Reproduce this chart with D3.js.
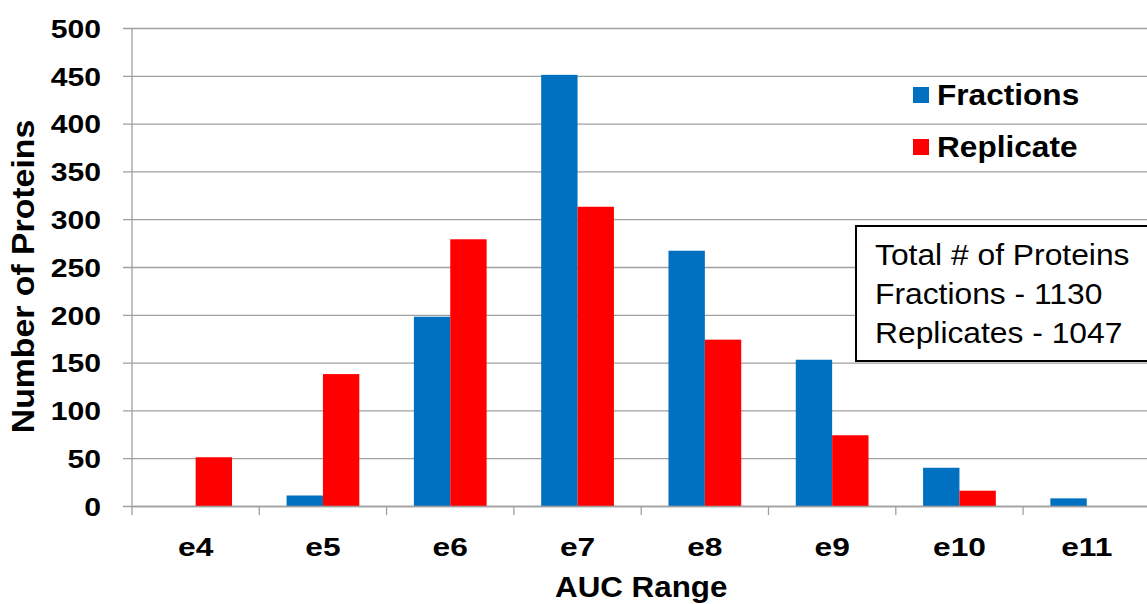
<!DOCTYPE html>
<html>
<head>
<meta charset="utf-8">
<script src="https://cdn.jsdelivr.net/npm/d3@7"></script>
<style>
  html, body { margin: 0; padding: 0; background: #fff; }
  svg { display: block; font-family: "Liberation Sans", Arial, sans-serif; }
</style>
</head>
<body>
<svg id="chart" width="1147" height="604"></svg>
<script>
const categories = ["e4", "e5", "e6", "e7", "e8", "e9", "e10", "e11"];
const seriesNames = ["Fractions", "Replicate"];
const fractions = [0, 11, 198, 451, 267, 153, 40, 8];
const replicate = [51, 138, 279, 313, 174, 74, 16, 0];
const yTicks = [0, 50, 100, 150, 200, 250, 300, 350, 400, 450, 500];
const boxLines = ["Total # of Proteins", "Fractions - 1130", "Replicates - 1047"];
const colors = ["#0070C0", "#FF0000"];

(function () {
const svg = d3.select("#chart");
const pLeft = 132, pRight = 1150.4, pTop = 28, pBottom = 506;
const gridColor = "#A0A0A0";
const FONT = "'Liberation Sans', Arial, sans-serif";

function stretch(sel, s) {
  sel.each(function () {
    const t = d3.select(this);
    const x = +t.attr("x") || 0;
    t.attr("x", x / s).attr("transform", `scale(${s},1)`);
  });
}

const x0 = d3.scaleBand().domain(categories).range([pLeft, pRight]).paddingInner(0).paddingOuter(0);
const x1 = d3.scaleBand().domain(seriesNames).range([0, x0.bandwidth()]).paddingInner(0).paddingOuter(0.75);
const y = d3.scaleLinear().domain([0, 500]).range([pBottom, pTop]);

// Y axis with gridlines
const yAxis = d3.axisLeft(y).tickValues(yTicks).tickSize(-(pRight - 123)).tickPadding(22);
const gy = svg.append("g").attr("transform", "translate(123,0)").call(yAxis);
gy.select(".domain").remove();
gy.selectAll(".tick line").attr("stroke", gridColor).attr("stroke-width", 1.3);
const yt = gy.selectAll(".tick text").attr("font-size", 26).attr("font-weight", "bold").attr("fill", "#000")
  .attr("font-family", FONT).attr("dy", "0.36em");
stretch(yt, 1.16);

// vertical axis line
svg.append("line").attr("x1", pLeft).attr("x2", pLeft).attr("y1", pTop).attr("y2", pBottom)
  .attr("stroke", gridColor).attr("stroke-width", 1.3);

// bars
const data = categories.map((c, i) => ({ c, vals: [fractions[i], replicate[i]] }));
const groups = svg.append("g").selectAll("g").data(data).join("g")
  .attr("transform", d => `translate(${x0(d.c)},0)`);
groups.selectAll("rect").data(d => d.vals.map((v, j) => ({ v, s: seriesNames[j], j })))
  .join("rect")
  .attr("x", d => x1(d.s))
  .attr("width", x1.bandwidth())
  .attr("y", d => y(d.v))
  .attr("height", d => pBottom - y(d.v))
  .attr("fill", d => colors[d.j]);

// X axis
const xAxis = d3.axisBottom(x0).tickSize(0);
const gx = svg.append("g").attr("transform", `translate(0,${pBottom})`).call(xAxis);
gx.select(".domain").attr("stroke", gridColor).attr("stroke-width", 1.3);
const xt = gx.selectAll(".tick text").attr("font-size", 26).attr("font-weight", "bold").attr("fill", "#000")
  .attr("font-family", FONT).attr("y", 50).attr("dy", 0);
stretch(xt, 1.22);
// boundary ticks
const bounds = categories.map(c => x0(c)).concat([x0(categories[categories.length - 1]) + x0.bandwidth()]);
svg.append("g").selectAll("line").data(bounds).join("line")
  .attr("x1", d => d).attr("x2", d => d).attr("y1", pBottom).attr("y2", pBottom + 9)
  .attr("stroke", gridColor).attr("stroke-width", 1.3);

// axis titles
svg.append("text").attr("transform", `translate(${(pLeft + pRight) / 2},597) scale(1.08,1)`)
  .attr("text-anchor", "middle").attr("font-size", 29).attr("font-weight", "bold").text("AUC Range");
svg.append("text").attr("transform", "translate(34,276.5) rotate(-90) scale(1.09,1)").attr("text-anchor", "middle")
  .attr("font-size", 31).attr("font-weight", "bold").text("Number of Proteins");

// legend
const legend = svg.append("g");
seriesNames.forEach((s, i) => {
  const ly = 95 + i * 52;
  legend.append("rect").attr("x", 913).attr("y", ly - 8).attr("width", 16).attr("height", 16).attr("fill", colors[i]);
  legend.append("text").attr("transform", `translate(937,${ly + 9.5}) scale(1.09,1)`)
    .attr("font-size", 29).attr("font-weight", "bold").text(s);
});

// totals box
svg.append("rect").attr("x", 856).attr("y", 226).attr("width", 300).attr("height", 135)
  .attr("fill", "#fff").attr("stroke", "#000").attr("stroke-width", 2);
svg.append("g").selectAll("text").data(boxLines).join("text")
  .attr("transform", (d, i) => `translate(875,${265 + i * 39}) scale(1.06,1)`)
  .attr("font-size", 30).text(d => d);
})();
</script>
</body>
</html>
